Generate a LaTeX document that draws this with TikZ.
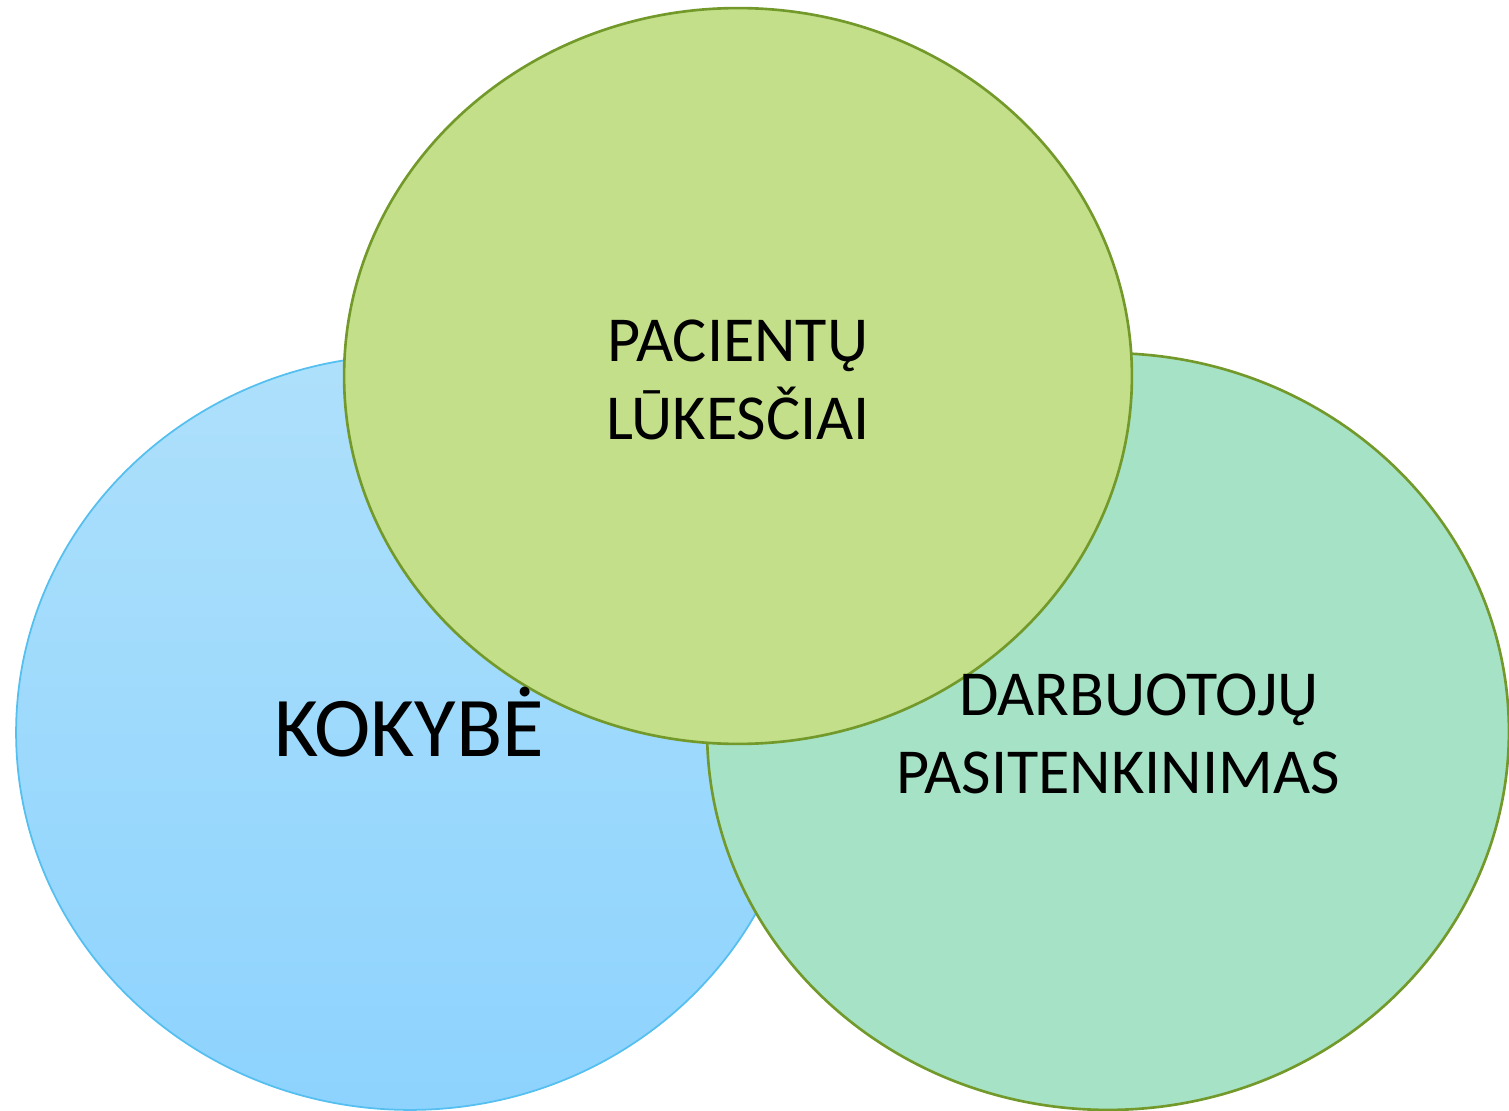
\documentclass[tikz,border=0pt]{standalone}
\usepackage{fontspec}
\setmainfont{Carlito}
\usepackage{tikz}
\usetikzlibrary{shapes.geometric}
\definecolor{kokTop}{HTML}{AEE0FB}
\definecolor{kokBot}{HTML}{8DD3FE}
\definecolor{kokLine}{HTML}{55BFEF}
\definecolor{pacFill}{HTML}{C3DF89}
\definecolor{darbFill}{HTML}{A6E2C6}
\definecolor{olive}{HTML}{72992A}

\begin{document}
\begin{tikzpicture}[x=0.02cm,y=-0.02cm,
  blob/.style={ellipse,inner sep=0pt,outer sep=0pt},
  word/.style={align=center,inner sep=0pt,font=\fontsize{36.5}{44.2}\selectfont}]
\useasboundingbox (0,0) rectangle (1509,1111);
\node[blob,draw=kokLine,line width=1pt,top color=kokTop,bottom color=kokBot,minimum width=15.76cm,minimum height=15.1cm] (kok) at (410,732.5) {};
\node[blob,draw=olive,line width=1.5pt,fill=darbFill,minimum width=16.04cm,minimum height=15.14cm] (darb) at (1108,731.5) {};
\node[blob,draw=olive,line width=1.5pt,fill=pacFill,minimum width=15.76cm,minimum height=14.72cm] (pac) at (738,376) {};
\node[anchor=base,inner sep=0pt,font=\fontsize{48.4}{54}\selectfont] (kokTxt) at (409,756) {KOKYBĖ};
\node[word] (pacTxt) at (738,380) {PACIENTŲ\\LŪKESČIAI};
\node[word] (darbTxt) at (1118,734) {\hspace*{0.84cm}DARBUOTOJŲ\\PASITENKINIMAS};
\end{tikzpicture}
\end{document}
